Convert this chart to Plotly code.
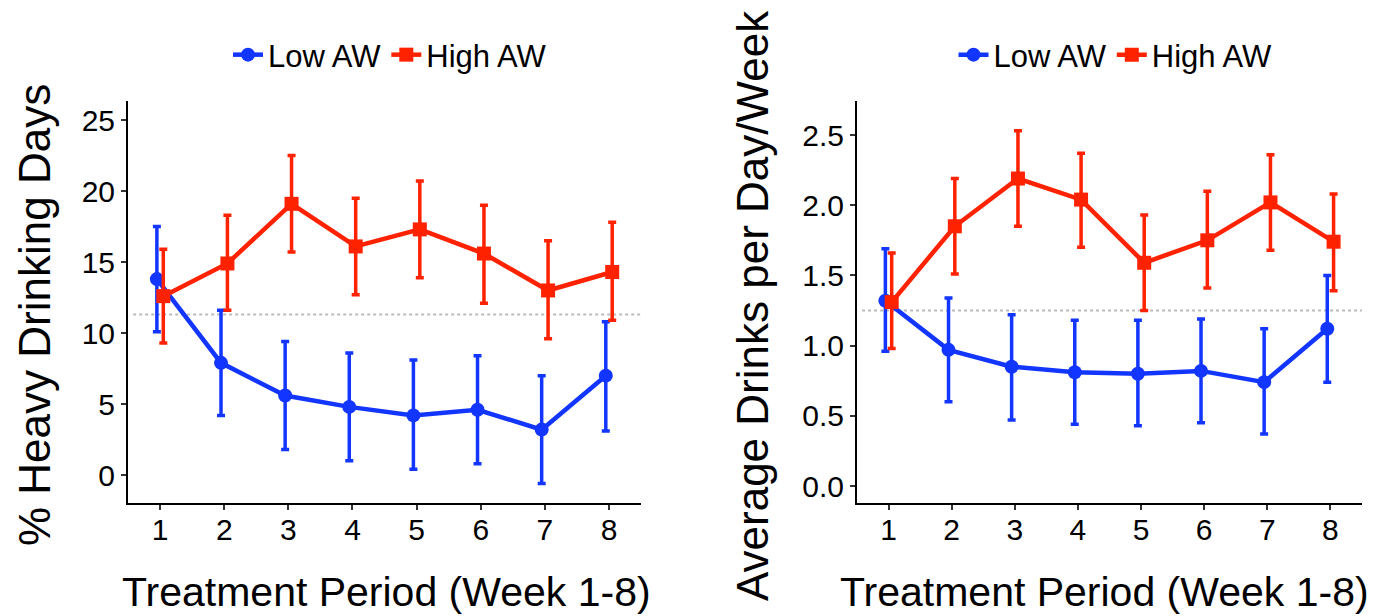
import plotly.graph_objects as go

weeks = [1, 2, 3, 4, 5, 6, 7, 8]
dodge = 0.05

# Panel 1: % Heavy Drinking Days
hdd_low = [13.8, 7.9, 5.6, 4.8, 4.2, 4.6, 3.2, 7.0]
hdd_low_lo = [10.1, 4.2, 1.8, 1.0, 0.4, 0.8, -0.6, 3.1]
hdd_low_hi = [17.5, 11.6, 9.4, 8.6, 8.1, 8.4, 7.0, 10.8]
hdd_high = [12.6, 14.9, 19.1, 16.1, 17.3, 15.6, 13.0, 14.3]
hdd_high_lo = [9.3, 11.6, 15.7, 12.7, 13.9, 12.1, 9.6, 10.9]
hdd_high_hi = [15.9, 18.3, 22.5, 19.5, 20.7, 19.0, 16.5, 17.8]
hdd_ref = 11.3

# Panel 2: Average Drinks per Day/Week
adw_low = [1.32, 0.97, 0.85, 0.81, 0.80, 0.82, 0.74, 1.12]
adw_low_lo = [0.96, 0.60, 0.47, 0.44, 0.43, 0.45, 0.37, 0.74]
adw_low_hi = [1.69, 1.34, 1.22, 1.18, 1.18, 1.19, 1.12, 1.50]
adw_high = [1.31, 1.85, 2.19, 2.04, 1.59, 1.75, 2.02, 1.74]
adw_high_lo = [0.98, 1.51, 1.85, 1.70, 1.25, 1.41, 1.68, 1.39]
adw_high_hi = [1.66, 2.19, 2.53, 2.37, 1.93, 2.10, 2.36, 2.08]
adw_ref = 1.25

series_names = ["Low AW", "High AW"]
colors = ["#1236ff", "#ff2200"]
symbols = ["circle", "square"]

FONT = "Liberation Sans, Arial, sans-serif"

fig = go.Figure()


def add_series(xa, ya, legend, means, lo, hi, idx, show):
    xs = [w + (-dodge if idx == 0 else dodge) for w in weeks]
    fig.add_trace(go.Scatter(
        x=xs, y=means, mode="lines+markers",
        name=series_names[idx], legend=legend, showlegend=show,
        xaxis=xa, yaxis=ya,
        line=dict(color=colors[idx], width=4.5),
        marker=dict(color=colors[idx], symbol=symbols[idx], size=14),
        error_y=dict(type="data", symmetric=False,
                     array=[h - m for h, m in zip(hi, means)],
                     arrayminus=[m - l for m, l in zip(means, lo)],
                     color=colors[idx], thickness=3.5, width=4),
    ))


add_series("x", "y", "legend", hdd_low, hdd_low_lo, hdd_low_hi, 0, True)
add_series("x", "y", "legend", hdd_high, hdd_high_lo, hdd_high_hi, 1, True)
add_series("x2", "y2", "legend2", adw_low, adw_low_lo, adw_low_hi, 0, True)
add_series("x2", "y2", "legend2", adw_high, adw_high_lo, adw_high_hi, 1, True)

axis_common = dict(
    showline=True, linecolor="black", linewidth=2,
    ticks="outside", ticklen=5, tickwidth=1.5, tickcolor="#333333",
    showgrid=False, zeroline=False,
    tickfont=dict(family=FONT, size=30, color="black"),
)

fig.update_layout(
    width=1384, height=616,
    margin=dict(l=0, r=0, t=0, b=0),
    paper_bgcolor="white", plot_bgcolor="white",
    font=dict(family=FONT, color="black"),
    xaxis=dict(domain=[0.0925, 0.4632], anchor="y", range=[0.5, 8.5],
               tickvals=weeks, ticklabelstandoff=-6, **axis_common),
    yaxis=dict(domain=[0.1834, 0.836], anchor="x", range=[-1.97, 26.34],
               tickvals=[0, 5, 10, 15, 20, 25], **axis_common),
    xaxis2=dict(domain=[0.6192, 0.9841], anchor="y2", range=[0.5, 8.5],
                tickvals=weeks, ticklabelstandoff=-6, **axis_common),
    yaxis2=dict(domain=[0.1834, 0.836], anchor="x2", range=[-0.121, 2.742],
                tickvals=[0, 0.5, 1.0, 1.5, 2.0, 2.5], tickformat=".1f",
                **axis_common),
    legend=dict(orientation="h", x=0.2818, y=0.9107, xanchor="center",
                yanchor="middle", font=dict(family=FONT, size=31),
                bgcolor="rgba(0,0,0,0)"),
    legend2=dict(orientation="h", x=0.806, y=0.9107, xanchor="center",
                 yanchor="middle", font=dict(family=FONT, size=31),
                 bgcolor="rgba(0,0,0,0)"),
    shapes=[
        dict(type="line", xref="x domain", yref="y", x0=0.01, x1=1,
             y0=hdd_ref, y1=hdd_ref, layer="below",
             line=dict(color="#bbbbbb", width=2, dash="dot")),
        dict(type="line", xref="x2 domain", yref="y2", x0=0.01, x1=1,
             y0=adw_ref, y1=adw_ref, layer="below",
             line=dict(color="#bbbbbb", width=2, dash="dot")),
    ],
    annotations=[
        dict(text="% Heavy Drinking Days", xref="paper", yref="paper",
             x=34 / 1384, y=1 - 315 / 616, textangle=-90, showarrow=False,
             xanchor="center", yanchor="middle",
             font=dict(family=FONT, size=44, color="black")),
        dict(text="Average Drinks per Day/Week", xref="paper", yref="paper",
             x=752 / 1384, y=1 - 305 / 616, textangle=-90, showarrow=False,
             xanchor="center", yanchor="middle",
             font=dict(family=FONT, size=44, color="black")),
        dict(text="Treatment Period (Week 1-8)", xref="paper", yref="paper",
             x=386 / 1384, y=1 - 592 / 616, showarrow=False,
             xanchor="center", yanchor="middle",
             font=dict(family=FONT, size=41, color="black")),
        dict(text="Treatment Period (Week 1-8)", xref="paper", yref="paper",
             x=1104 / 1384, y=1 - 592 / 616, showarrow=False,
             xanchor="center", yanchor="middle",
             font=dict(family=FONT, size=41, color="black")),
    ],
)

fig.write_html("out.html")
